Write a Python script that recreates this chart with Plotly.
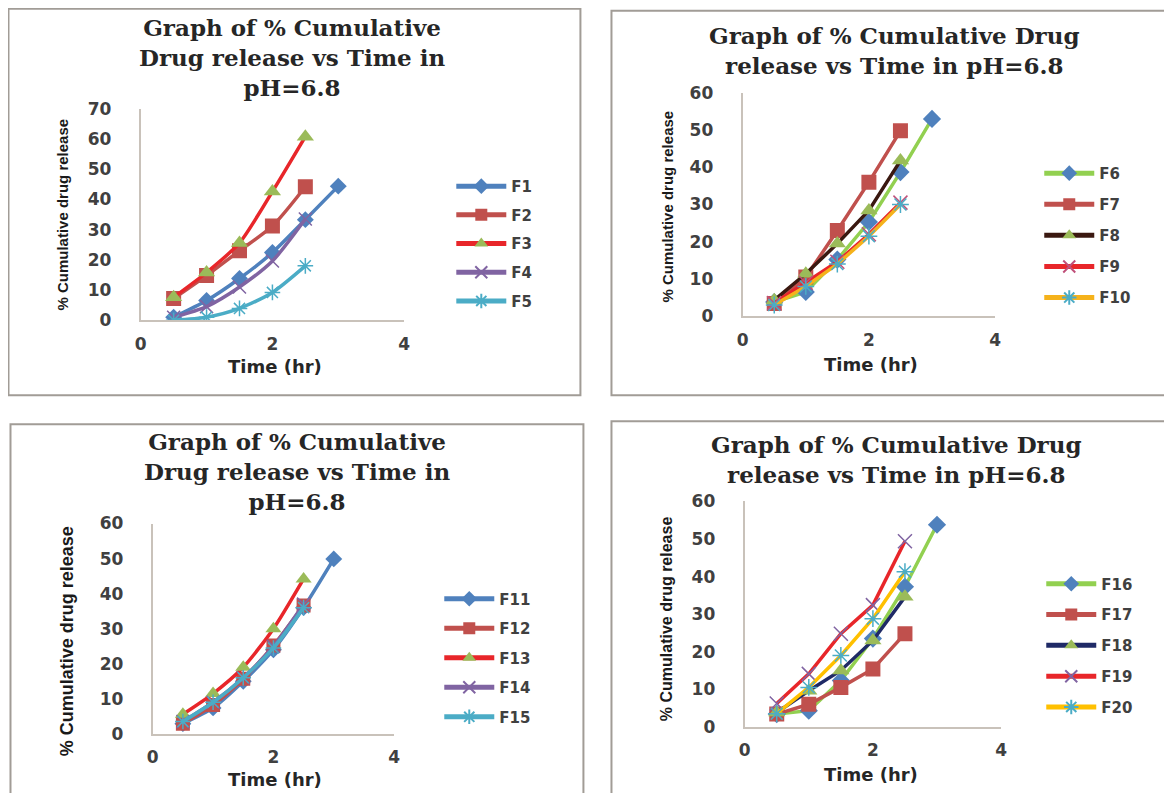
import plotly.graph_objects as go

# ---------------- data ----------------
time_hr = [0.5, 1, 1.5, 2, 2.5, 3]

# Panel 1
F1 = [1.0, 6.5, 13.8, 22.4, 33.3, 44.4]
F2 = [7.2, 14.8, 23.0, 31.2, 44.2]
F3 = [7.6, 15.8, 25.6, 42.6, 60.8]
F4 = [1.0, 4.5, 11.0, 19.6, 33.5]
F5 = [0.0, 1.0, 3.9, 9.2, 18.0]

# Panel 2
F6 = [3.8, 6.5, 15.2, 25.3, 38.7, 53.0]
F7 = [3.4, 10.5, 23.0, 36.0, 49.8]
F8 = [4.3, 11.4, 19.5, 28.4, 41.8]
F9 = [3.5, 9.0, 14.6, 22.0, 30.5]
F10 = [3.0, 8.0, 14.0, 21.5, 30.0]

# Panel 3
F11 = [2.9, 7.4, 15.0, 24.0, 36.0, 49.9]
F12 = [2.9, 8.2, 15.7, 25.2, 36.6]
F13 = [5.6, 11.5, 19.0, 30.0, 44.2]
F14 = [3.5, 9.0, 16.0, 25.0, 37.0]
F15 = [3.5, 9.0, 16.0, 24.5, 36.0]

# Panel 4
F16 = [3.4, 4.3, 12.3, 23.5, 37.3, 53.8]
F17 = [3.4, 6.0, 10.5, 15.4, 24.8]
F18 = [3.8, 9.6, 15.0, 23.0, 34.6]
F19 = [6.2, 14.1, 24.8, 32.4, 49.4]
F20 = [3.5, 10.5, 19.0, 28.8, 41.3]

x_ticks = [0, 2, 4]
title_a = "Graph of % Cumulative<br>Drug release vs Time in<br>pH=6.8"
title_b = "Graph of % Cumulative Drug<br>release vs Time in pH=6.8"
y_title = "% Cumulative drug release"
x_title = "Time (hr)"

# ---------------- geometry ----------------
BODY = 8
W, H = 1156, 785
# page -> photo mapping observed: X = 6.6 + 0.988*x ; Y = 9.5 + 0.973*y
SX, OX, SY, OY = 0.988, 6.6, 0.973, 9.5

def px(X):   # target photo pixel -> paper fraction
    return ((X - OX) / SX - BODY) / W

def py(Y):
    return 1 - ((Y - OY) / SY - BODY) / H

BLUE = "#4F81BD"
DKRED = "#C0504D"
GREEN = "#9BBB59"
PURPLE = "#8064A2"
TEAL = "#4BACC6"
RED = "#E8262A"
LGREEN = "#92D050"
BROWN = "#3A1810"
ORANGE = "#F5B21B"
YELLOW = "#FFC000"
NAVY = "#1F2A66"
PINK = "#C0507A"

SYM = {"d": "diamond", "s": "square", "t": "triangle-up", "x": "x-thin-open", "a": "asterisk-open"}

panels = [
    dict(series=[("F1", F1, BLUE, "d", BLUE, 13),
                 ("F2", F2, DKRED, "s", DKRED, 15),
                 ("F3", F3, RED, "t", GREEN, 15),
                 ("F4", F4, PURPLE, "x", PURPLE, 13),
                 ("F5", F5, TEAL, "a", TEAL, 13)],
         ymax=70, shape="spline",
         dom_x=(141, 404), dom_y=(319, 108),
         title=title_a, title_x=292, title_y=57,
         ytitle=(62, 214, 15), xtitle=(275, 365),
         leg=(458, 185, 6.2), border=(9, 8, 580, 394)),
    dict(series=[("F6", F6, LGREEN, "d", BLUE, 14),
                 ("F7", F7, DKRED, "s", DKRED, 15),
                 ("F8", F8, BROWN, "t", GREEN, 15),
                 ("F9", F9, RED, "x", PINK, 14),
                 ("F10", F10, ORANGE, "a", TEAL, 14)],
         ymax=60, shape="linear",
         dom_x=(742, 994), dom_y=(315, 92),
         title=title_b, title_x=894, title_y=50,
         ytitle=(666, 206, 15), xtitle=(870, 363),
         leg=(1045, 172, 8.6), border=(611, 10, 1169, 394)),
    dict(series=[("F11", F11, BLUE, "d", BLUE, 13),
                 ("F12", F12, DKRED, "s", DKRED, 14),
                 ("F13", F13, RED, "t", GREEN, 14),
                 ("F14", F14, PURPLE, "x", PURPLE, 13),
                 ("F15", F15, TEAL, "a", TEAL, 13)],
         ymax=60, shape="spline",
         dom_x=(153, 394), dom_y=(732, 522),
         title=title_a, title_x=297, title_y=470,
         ytitle=(67, 640, 18), xtitle=(275, 778),
         leg=(446, 597, 7.0), border=(11, 423, 583, 840)),
    dict(series=[("F16", F16, LGREEN, "d", BLUE, 14),
                 ("F17", F17, DKRED, "s", DKRED, 15),
                 ("F18", F18, NAVY, "t", GREEN, 15),
                 ("F19", F19, RED, "x", PURPLE, 14),
                 ("F20", F20, YELLOW, "a", TEAL, 14)],
         ymax=60, shape="linear",
         dom_x=(744, 1000), dom_y=(725, 500),
         title=title_b, title_x=896, title_y=458,
         ytitle=(666, 617, 16), xtitle=(870, 773),
         leg=(1047, 582, 8.3), border=(611, 420, 1190, 840)),
]

fig = go.Figure()
annotations = []
shapes = []
TICKFONT = dict(family="DejaVu Sans", size=17, color="#404040", weight="bold")
LEG_TOP_TO_CENTER = 16.5 * SY   # first legend item centre below legend top (photo px)
LEG_X_TO_LINE = 7 * SX

for i, p in enumerate(panels, start=1):
    suffix = "" if i == 1 else str(i)
    legname = "legend" + suffix
    for (name, vals, lcol, sym, mcol, msize) in p["series"]:
        open_sym = sym in ("x", "a")
        fig.add_trace(go.Scatter(
            x=time_hr[:len(vals)], y=vals, name=name,
            mode="lines+markers",
            line=dict(color=lcol, width=3.5, shape=p["shape"], smoothing=0.7),
            marker=dict(symbol=SYM[sym], color=mcol, size=msize,
                        line=dict(width=1.5 if open_sym else 0, color=mcol)),
            xaxis="x" + suffix, yaxis="y" + suffix,
            legend=legname, legendgroup=name,
        ))
    axis_common = dict(showgrid=False, zeroline=False, showline=True,
                       linecolor="#C9C2BA", linewidth=2, ticks="",
                       tickfont=TICKFONT, fixedrange=True)
    lx, ly, gap = p["leg"]
    fig.update_layout(**{
        "xaxis" + suffix: dict(domain=[px(p["dom_x"][0]), px(p["dom_x"][1])],
                               range=[0, 4], tickvals=x_ticks,
                               anchor="y" + suffix, ticklabelstandoff=7,
                               **axis_common),
        "yaxis" + suffix: dict(domain=[py(p["dom_y"][0]), py(p["dom_y"][1])],
                               range=[0, p["ymax"]], dtick=10,
                               anchor="x" + suffix, ticklabelstandoff=24,
                               **axis_common),
        legname: dict(x=px(lx - LEG_X_TO_LINE), y=py(ly - LEG_TOP_TO_CENTER),
                      xanchor="left", yanchor="top", bgcolor="rgba(0,0,0,0)",
                      font=dict(family="DejaVu Sans", size=15, color="#404040",
                                weight="bold"),
                      tracegroupgap=gap, itemwidth=50, traceorder="grouped",
                      itemsizing="constant"),
    })
    annotations.append(dict(text=p["title"], x=px(p["title_x"]), y=py(p["title_y"]),
                            xref="paper", yref="paper", showarrow=False,
                            xanchor="center", yanchor="middle", align="center",
                            font=dict(family="DejaVu Serif", size=23,
                                      color="#262626", weight="bold")))
    tx, ty, tsize = p["ytitle"]
    annotations.append(dict(text=y_title, x=px(tx), y=py(ty),
                            xref="paper", yref="paper", showarrow=False,
                            textangle=-90, xanchor="center", yanchor="middle",
                            font=dict(family="Liberation Sans Narrow, Liberation Sans",
                                      size=tsize, color="#1a1a1a", weight="bold")))
    annotations.append(dict(text=x_title, x=px(p["xtitle"][0]), y=py(p["xtitle"][1]),
                            xref="paper", yref="paper", showarrow=False,
                            xanchor="center", yanchor="middle",
                            font=dict(family="DejaVu Sans", size=18,
                                      color="#262626", weight="bold")))
    bx0, by0, bx1, by1 = p["border"]
    shapes.append(dict(type="rect", xref="paper", yref="paper",
                       x0=px(bx0), x1=px(bx1), y0=py(by1), y1=py(by0),
                       line=dict(color="#A19C96", width=2), layer="below"))

fig.update_layout(width=W, height=H, margin=dict(l=0, r=0, t=0, b=0),
                  paper_bgcolor="white", plot_bgcolor="white",
                  annotations=annotations, shapes=shapes, showlegend=True)

fig.write_html("out.html", config={"displayModeBar": False})
